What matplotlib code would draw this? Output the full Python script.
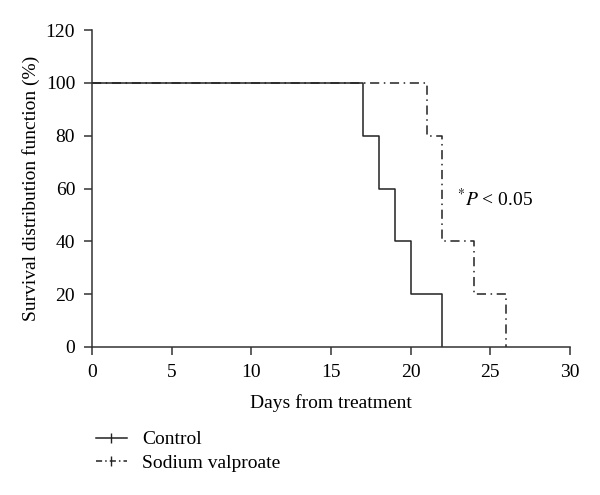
import matplotlib.pyplot as plt
from matplotlib.lines import Line2D

plt.rcParams['font.family'] = ['Liberation Serif', 'DejaVu Serif']
plt.rcParams['mathtext.fontset'] = 'stix'

# Kaplan-Meier steps
control_days = [0, 17, 18, 19, 20, 22]
control_surv = [100, 80, 60, 40, 20, 0]
valproate_days = [0, 21, 22, 24, 26]
valproate_surv = [100, 80, 40, 20, 0]

fig = plt.figure(figsize=(6, 4.95), dpi=100)
ax = fig.add_axes([0.153, 0.299, 0.797, 0.640])

ax.step(control_days, control_surv, where='post', color='#222222', lw=1.1)
ax.step(valproate_days, valproate_surv, where='post', color='#222222', lw=1.1,
        linestyle=(0, (6, 3, 1, 3)))

ax.set_xlim(0, 30)
ax.set_ylim(0, 120)
ax.set_xticks(range(0, 31, 5))
ax.set_yticks(range(0, 121, 20))
for s in ['top', 'right']:
    ax.spines[s].set_visible(False)
for s in ['left', 'bottom']:
    ax.spines[s].set_color('#333333')
    ax.spines[s].set_linewidth(1.1)
ax.tick_params(direction='out', length=6, width=1.1, color='#333333',
               labelsize=14, pad=6)
ax.set_xlabel('Days from treatment', fontsize=14, labelpad=10)
ax.set_ylabel('Survival distribution function (%)', fontsize=14, labelpad=4)

ax.text(22.9, 56, r'$^{*}P$ < 0.05', fontsize=14, ha='left', va='center')

handles = [
    Line2D([], [], color='#222222', lw=1.1, marker='|', markersize=7),
    Line2D([], [], color='#222222', lw=1.1, linestyle=(0, (4, 2, 1, 2)),
           marker='|', markersize=7),
]
fig.legend(handles, ['Control', 'Sodium valproate'], loc='upper left',
           bbox_to_anchor=(0.13, 0.165), frameon=False, fontsize=14,
           handlelength=1.6, handletextpad=0.8, labelspacing=0.3, numpoints=1)

fig.savefig('out.png', dpi=100)
